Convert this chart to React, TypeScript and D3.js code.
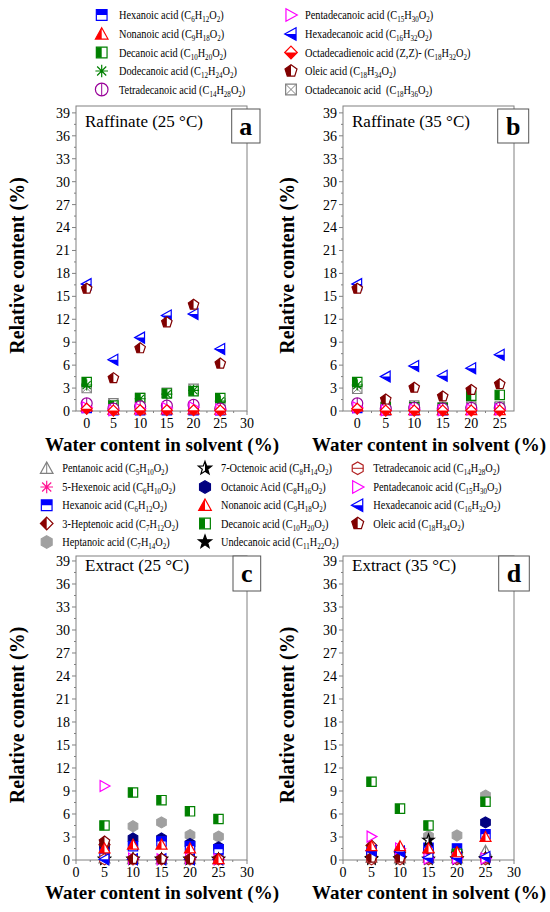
import React from "react";
import * as d3 from "d3";

// water content (%) per sample
const RAF_WATER = [0, 5, 10, 15, 20, 25];
const EXT_WATER = [5, 10, 15, 20, 25];

const Y_TICKS = [0, 3, 6, 9, 12, 15, 18, 21, 24, 27, 30, 33, 36, 39];
const X_TICKS_30 = [0, 5, 10, 15, 20, 25, 30];
const X_TICKS_25 = [0, 5, 10, 15, 20, 25];

// Raffinate 25 °C
const a_hexanoic = [0.4, 0.1, 0.1, 0.1, 0.1, 0.1];
const a_nonanoic = [0.6, 0.15, 0.2, 0.2, 0.2, 0.15];
const a_decanoic = [3.8, 0.7, 1.7, 2.3, 2.6, 1.7];
const a_dodecanoic = [3.4, 0.6, 1.6, 2.2, 2.7, 1.3];
const a_tetradecanoic = [1.0, 0.3, 0.6, 0.7, 0.8, 0.3];
const a_pentadecanoic = [0.5, 0.1, 0.3, 0.4, 0.5, 0.2];
const a_hexadecanoic = [16.6, 6.7, 9.6, 12.5, 12.7, 8.1];
const a_octadecadienoic = [0.3, 0.05, 0.1, 0.1, 0.1, 0.05];
const a_oleic = [16.0, 4.3, 8.2, 11.6, 13.9, 6.2];
const a_octadecanoic = [3.0, 1.0, 1.7, 2.4, 2.9, 1.0];

// Raffinate 35 °C
const b_hexanoic = [0.4, 0.1, 0.1, 0.1, 0.2, 0.5];
const b_nonanoic = [0.6, 0.1, 0.1, 0.1, 0.1, 0.1];
const b_decanoic = [3.8, 0.5, 0.5, 0.4, 2.0, 2.1];
const b_dodecanoic = [3.4, 0.5, 0.6, 0.5, 0.5, 0.5];
const b_tetradecanoic = [1.0, 0.3, 0.4, 0.3, 0.4, 0.4];
const b_pentadecanoic = [0.5, 0.1, 0.2, 0.1, 0.2, 0.2];
const b_hexadecanoic = [16.6, 4.5, 5.9, 4.6, 5.6, 7.35];
const b_octadecadienoic = [0.3, 0.05, 0.05, 0.05, 0.05, 0.05];
const b_oleic = [16.0, 1.5, 3.05, 1.9, 2.75, 3.5];
const b_octadecanoic = [2.9, 0.6, 0.7, 0.5, 0.6, 0.6];

// Extract 25 °C
const c_pentanoic = [0.2, 0.1, 0.1, 0.1, 0.1];
const c_hexenoic = [0.1, 0.1, 0.1, 0.1, 0.1];
const c_hexanoic = [0.8, 1.8, 2.4, 1.8, 1.4];
const c_heptenoic = [2.0, 0.1, 0.1, 0.1, 0.1];
const c_heptanoic = [2.0, 4.4, 4.9, 3.25, 3.05];
const c_octenoic = [0.1, 0.1, 0.1, 0.1, 0.1];
const c_octanoic = [1.8, 2.8, 2.8, 2.1, 1.65];
const c_nonanoic = [1.5, 2.0, 2.0, 1.5, 0.1];
const c_decanoic = [4.5, 8.8, 7.8, 6.35, 5.35];
const c_undecanoic = [0.1, 0.1, 0.1, 0.1, 0.1];
const c_tetradecanoic = [0.1, 0.1, 0.1, 0.1, 0.1];
const c_pentadecanoic = [9.66, 0.2, 0.1, 0.2, 0.1];
const c_hexadecanoic = [0.1, 0.1, 0.1, 0.1, 0.1];
const c_oleic = [2.4, 0.15, 0.15, 0.15, 0.15];

// Extract 35 °C
const d_pentanoic = [0.3, 0.2, 0.3, 0.2, 1.2];
const d_hexenoic = [0.2, 0.2, 0.2, 0.2, 0.2];
const d_hexanoic = [1.0, 0.8, 1.6, 1.5, 3.35];
const d_heptenoic = [1.9, 1.0, 1.0, 1.0, 0.3];
const d_heptanoic = [0.5, 0.5, 3.1, 3.2, 8.4];
const d_octenoic = [0.2, 0.2, 2.6, 0.2, 0.2];
const d_octanoic = [0.8, 0.6, 1.2, 1.0, 4.9];
const d_nonanoic = [1.8, 1.8, 1.5, 1.0, 3.0];
const d_decanoic = [10.2, 6.7, 4.5, 0.8, 7.6];
const d_undecanoic = [0.1, 0.1, 0.1, 0.1, 0.1];
const d_tetradecanoic = [0.1, 0.1, 0.1, 0.1, 0.1];
const d_pentadecanoic = [3.05, 1.5, 0.2, 0.2, 0.2];
const d_hexadecanoic = [1.2, 1.1, 0.3, 0.3, 0.4];
const d_oleic = [0.3, 0.3, 0.2, 0.2, 0.2];

// legend labels (_n = subscript)
const LABELS: Record<string, string> = {
  hexanoic: "Hexanoic acid (C_6H_12O_2)",
  nonanoic: "Nonanoic acid (C_9H_18O_2)",
  decanoic: "Decanoic acid (C_10H_20O_2)",
  dodecanoic: "Dodecanoic acid (C_12H_24O_2)",
  tetradecanoicR: "Tetradecanoic acid (C_14H_28O_2)",
  pentadecanoic: "Pentadecanoic acid (C_15H_30O_2)",
  hexadecanoic: "Hexadecanoic acid (C_16H_32O_2)",
  octadecadienoic: "Octadecadienoic acid (Z,Z)- (C_18H_32O_2)",
  oleic: "Oleic acid (C_18H_34O_2)",
  octadecanoic: "Octadecanoic acid\u00a0 (C_18H_36O_2)",
  pentanoic: "Pentanoic acid (C_5H_10O_2)",
  hexenoic: "5-Hexenoic acid (C_6H_10O_2)",
  heptenoic: "3-Heptenoic acid (C_7H_12O_2)",
  heptanoic: "Heptanoic acid (C_7H_14O_2)",
  octenoic: "7-Octenoic acid (C_8H_14O_2)",
  octanoic: "Octanoic Acid (C_8H_16O_2)",
  undecanoic: "Undecanoic acid (C_11H_22O_2)",
  tetradecanoicE: "Tetradecanoic acid (C_14H_28O_2)",
};

const TOP_LEGEND = [
  ["hexanoic", "nonanoic", "decanoic", "dodecanoic", "tetradecanoicR"],
  ["pentadecanoic", "hexadecanoic", "octadecadienoic", "oleic", "octadecanoic"],
];
const MID_LEGEND = [
  ["pentanoic", "hexenoic", "hexanoic", "heptenoic", "heptanoic"],
  ["octenoic", "octanoic", "nonanoic", "decanoic", "undecanoic"],
  ["tetradecanoicE", "pentadecanoic", "hexadecanoic", "oleic"],
];

type Style = { shape: string; color: string; fill: string; extra?: string };
const STYLES: Record<string, Style> = {
  hexanoic: { shape: "square", color: "#0000ff", fill: "top" },
  nonanoic: { shape: "triUp", color: "#ff0000", fill: "left" },
  decanoic: { shape: "square", color: "#008000", fill: "left" },
  dodecanoic: { shape: "asterisk", color: "#008000", fill: "none" },
  tetradecanoicR: { shape: "circle", color: "#990099", fill: "none", extra: "v" },
  pentadecanoic: { shape: "triRight", color: "#ff00ff", fill: "none" },
  hexadecanoic: { shape: "triLeft", color: "#0000ff", fill: "bottom" },
  octadecadienoic: { shape: "diamond", color: "#ff0000", fill: "bottom" },
  oleic: { shape: "pentagon", color: "#800000", fill: "left" },
  octadecanoic: { shape: "square", color: "#808080", fill: "none", extra: "x" },
  pentanoic: { shape: "triUp", color: "#808080", fill: "none", extra: "v" },
  hexenoic: { shape: "asterisk", color: "#ff1493", fill: "none" },
  heptenoic: { shape: "diamond", color: "#8b0000", fill: "left" },
  heptanoic: { shape: "hex", color: "#a0a0a0", fill: "full" },
  octenoic: { shape: "star", color: "#000000", fill: "right" },
  octanoic: { shape: "hex", color: "#000080", fill: "full" },
  undecanoic: { shape: "star", color: "#000000", fill: "full" },
  tetradecanoicE: { shape: "hex", color: "#b22222", fill: "none", extra: "h" },
};

const FONT = "Liberation Serif, Times New Roman, DejaVu Serif, serif";
const AXIS = "#808080";

function poly(n: number, r: number, inner?: number) {
  const pts: string[] = [];
  const count = inner ? n * 2 : n;
  for (let k = 0; k < count; k++) {
    const a = -Math.PI / 2 + (k * 2 * Math.PI) / count;
    const rr = inner && k % 2 === 1 ? inner : r;
    pts.push(`${(rr * Math.cos(a)).toFixed(2)},${(rr * Math.sin(a)).toFixed(2)}`);
  }
  return "M" + pts.join("L") + "Z";
}

function shapePath(shape: string, r: number) {
  switch (shape) {
    case "square": {
      const s = r * 0.85;
      return `M${-s},${-s}H${s}V${s}H${-s}Z`;
    }
    case "triUp":
      return `M0,${-r}L${r},${r * 0.8}L${-r},${r * 0.8}Z`;
    case "triLeft":
      return `M${-r},0L${r * 0.8},${-r}L${r * 0.8},${r}Z`;
    case "triRight":
      return `M${r},0L${-r * 0.8},${-r}L${-r * 0.8},${r}Z`;
    case "diamond":
      return `M0,${-r}L${r},0L0,${r}L${-r},0Z`;
    case "circle":
      return `M${r},0A${r},${r} 0 1,1 ${-r},0A${r},${r} 0 1,1 ${r},0Z`;
    case "hex":
      return poly(6, r);
    case "pentagon":
      return poly(5, r);
    case "star":
      return poly(5, r * 1.1, r * 0.45);
    case "asterisk": {
      const q = r * 0.72;
      return `M0,${-r}V${r}M${-r},0H${r}M${-q},${-q}L${q},${q}M${-q},${q}L${q},${-q}`;
    }
  }
  return "";
}

const Marker = ({ kind, x, y, r }: { kind: string; x: number; y: number; r: number }) => {
  const st = STYLES[kind];
  const d = shapePath(st.shape, r);
  const half = ["left", "right", "top", "bottom"].includes(st.fill);
  const s = r * 0.85;
  return (
    <g transform={`translate(${x},${y})`}>
      {st.shape !== "asterisk" && (
        <path d={d} fill={st.fill === "full" ? st.color : "#fff"} />
      )}
      {half && <path d={d} fill={st.color} clipPath={`url(#half-${st.fill})`} />}
      <path d={d} fill="none" stroke={st.color} strokeWidth={1.2} strokeLinejoin="miter" />
      {st.extra === "v" && (
        <line x1={0} x2={0} y1={-r} y2={st.shape === "triUp" ? r * 0.8 : r} stroke={st.color} strokeWidth={1} />
      )}
      {st.extra === "h" && <line x1={-r * 0.87} x2={r * 0.87} y1={0} y2={0} stroke={st.color} strokeWidth={1} />}
      {st.extra === "x" && (
        <path d={`M${-s},${-s}L${s},${s}M${-s},${s}L${s},${-s}`} stroke={st.color} strokeWidth={1} />
      )}
    </g>
  );
};

// legend text is narrow in the source figure, so it is squeezed horizontally
const Formula = ({ text, x, y, size }: { text: string; x: number; y: number; size: number }) => {
  const parts = text.split(/_(\d+)/);
  return (
    <text transform={`translate(${x},${y}) scale(0.84,1)`} fontSize={size} fill="#000">
      {parts.map((p, i) =>
        i % 2 === 1 ? (
          <tspan key={i} fontSize={size * 0.68} dy={3}>
            {p}
          </tspan>
        ) : (
          <tspan key={i} dy={i === 0 ? 0 : -3}>
            {p}
          </tspan>
        )
      )}
    </text>
  );
};

type Series = { kind: string; values: number[] };

interface PanelProps {
  left: number;
  top: number;
  width: number;
  height: number;
  xDomain: [number, number];
  yMax: number;
  xTicks: number[];
  xs: number[];
  series: Series[];
  title: string;
  titleDy: number;
  label: string;
  labelBox: [number, number, number, number];
  yTitleX: number;
  xTitleY: number;
}

const Panel = (p: PanelProps) => {
  const x = d3.scaleLinear().domain(p.xDomain).range([p.left, p.left + p.width]);
  const y = d3.scaleLinear().domain([0, p.yMax]).range([p.top + p.height, p.top]);
  const bottom = p.top + p.height;
  const yMinor = Y_TICKS.map((t) => t + 1.5).filter((t) => t < p.yMax);
  const xMinor = p.xTicks.map((t) => t + 2.5).filter((t) => t < p.xDomain[1]);
  const [bx, by, bw, bh] = p.labelBox;
  return (
    <g>
      <rect x={p.left} y={p.top} width={p.width} height={p.height} fill="#fff" stroke={AXIS} strokeWidth={1} />
      {Y_TICKS.map((t) => (
        <g key={`y${t}`}>
          <line x1={p.left - 4} x2={p.left} y1={y(t)} y2={y(t)} stroke={AXIS} />
          <text x={p.left - 6} y={y(t)} dy="0.35em" textAnchor="end" fontSize={14}>
            {t}
          </text>
        </g>
      ))}
      {yMinor.map((t) => (
        <line key={`ym${t}`} x1={p.left - 2} x2={p.left} y1={y(t)} y2={y(t)} stroke={AXIS} />
      ))}
      {p.xTicks.map((t) => (
        <g key={`x${t}`}>
          <line x1={x(t)} x2={x(t)} y1={bottom} y2={bottom + 4} stroke={AXIS} />
          <text x={x(t)} y={bottom + 17} textAnchor="middle" fontSize={14}>
            {t}
          </text>
        </g>
      ))}
      {xMinor.map((t) => (
        <line key={`xm${t}`} x1={x(t)} x2={x(t)} y1={bottom} y2={bottom + 2} stroke={AXIS} />
      ))}
      <text x={p.left + 9} y={p.top + p.titleDy} fontSize={17}>
        {p.title}
      </text>
      <rect x={bx} y={by} width={bw} height={bh} fill="#fff" stroke="#555" strokeWidth={1} />
      <text x={bx + bw / 2} y={by + bh / 2} dy="0.33em" textAnchor="middle" fontWeight="bold" fontSize={26}>
        {p.label}
      </text>
      {p.series.map((s) =>
        s.values.map((v, i) => <Marker key={`${s.kind}${i}`} kind={s.kind} x={x(p.xs[i])} y={y(v)} r={5.5} />)
      )}
      <text
        transform={`translate(${p.yTitleX},${p.top + p.height / 2 + 7}) rotate(-90)`}
        dy="0.35em"
        textAnchor="middle"
        fontWeight="bold"
        fontSize={20}
      >
        Relative content (%)
      </text>
      <text x={p.left + 86} y={p.xTitleY} textAnchor="middle" fontWeight="bold" fontSize={19}>
        Water content in solvent (%)
      </text>
    </g>
  );
};

const Legend = ({ cols, rows, markerX, textX }: { cols: string[][]; rows: number[]; markerX: number[]; textX: number[] }) => (
  <g>
    {cols.map((col, ci) =>
      col.map((k, ri) => (
        <g key={`${ci}-${k}`}>
          <Marker kind={k} x={markerX[ci]} y={rows[ri]} r={6.3} />
          <Formula text={LABELS[k]} x={textX[ci]} y={rows[ri] + 4} size={12.3} />
        </g>
      ))
    )}
  </g>
);

const clipRects: Record<string, [number, number, number, number]> = {
  left: [-20, -20, 20, 40],
  right: [0, -20, 20, 40],
  top: [-20, -20, 40, 20],
  bottom: [-20, 0, 40, 20],
};

export default function App() {
  const rafA: Series[] = [
    { kind: "hexanoic", values: a_hexanoic },
    { kind: "nonanoic", values: a_nonanoic },
    { kind: "octadecanoic", values: a_octadecanoic },
    { kind: "decanoic", values: a_decanoic },
    { kind: "dodecanoic", values: a_dodecanoic },
    { kind: "tetradecanoicR", values: a_tetradecanoic },
    { kind: "pentadecanoic", values: a_pentadecanoic },
    { kind: "octadecadienoic", values: a_octadecadienoic },
    { kind: "hexadecanoic", values: a_hexadecanoic },
    { kind: "oleic", values: a_oleic },
  ];
  const rafB: Series[] = [
    { kind: "hexanoic", values: b_hexanoic },
    { kind: "nonanoic", values: b_nonanoic },
    { kind: "octadecanoic", values: b_octadecanoic },
    { kind: "decanoic", values: b_decanoic },
    { kind: "dodecanoic", values: b_dodecanoic },
    { kind: "tetradecanoicR", values: b_tetradecanoic },
    { kind: "pentadecanoic", values: b_pentadecanoic },
    { kind: "octadecadienoic", values: b_octadecadienoic },
    { kind: "hexadecanoic", values: b_hexadecanoic },
    { kind: "oleic", values: b_oleic },
  ];
  const extC: Series[] = [
    { kind: "pentanoic", values: c_pentanoic },
    { kind: "hexenoic", values: c_hexenoic },
    { kind: "heptanoic", values: c_heptanoic },
    { kind: "octanoic", values: c_octanoic },
    { kind: "hexanoic", values: c_hexanoic },
    { kind: "heptenoic", values: c_heptenoic },
    { kind: "octenoic", values: c_octenoic },
    { kind: "undecanoic", values: c_undecanoic },
    { kind: "decanoic", values: c_decanoic },
    { kind: "tetradecanoicE", values: c_tetradecanoic },
    { kind: "pentadecanoic", values: c_pentadecanoic },
    { kind: "hexadecanoic", values: c_hexadecanoic },
    { kind: "oleic", values: c_oleic },
    { kind: "nonanoic", values: c_nonanoic },
  ];
  const extD: Series[] = [
    { kind: "pentanoic", values: d_pentanoic },
    { kind: "hexenoic", values: d_hexenoic },
    { kind: "heptanoic", values: d_heptanoic },
    { kind: "octanoic", values: d_octanoic },
    { kind: "hexanoic", values: d_hexanoic },
    { kind: "heptenoic", values: d_heptenoic },
    { kind: "undecanoic", values: d_undecanoic },
    { kind: "octenoic", values: d_octenoic },
    { kind: "decanoic", values: d_decanoic },
    { kind: "tetradecanoicE", values: d_tetradecanoic },
    { kind: "oleic", values: d_oleic },
    { kind: "pentadecanoic", values: d_pentadecanoic },
    { kind: "hexadecanoic", values: d_hexadecanoic },
    { kind: "nonanoic", values: d_nonanoic },
  ];

  return (
    <svg width={550} height={912} style={{ position: "absolute", left: 0, top: 0, background: "#fff", fontFamily: FONT }}>
      <defs>
        {Object.entries(clipRects).map(([k, [cx, cy, cw, ch]]) => (
          <clipPath id={`half-${k}`} key={k}>
            <rect x={cx} y={cy} width={cw} height={ch} />
          </clipPath>
        ))}
      </defs>
      <rect width={550} height={912} fill="#fff" />
      <Legend cols={TOP_LEGEND} rows={[15, 34, 52.5, 71, 89.5]} markerX={[101.7, 291]} textX={[119, 305]} />
      <Legend cols={MID_LEGEND} rows={[468.3, 487, 505.3, 523.5, 542]} markerX={[46.7, 205, 357.7]} textX={[62.3, 221, 373.3]} />
      <Panel
        left={76} top={106} width={171} height={305}
        xDomain={[-2, 30]} yMax={39.9} xTicks={X_TICKS_30} xs={RAF_WATER} series={rafA}
        title="Raffinate (25 °C)" titleDy={21} label="a" labelBox={[231.7, 109, 28.3, 34]}
        yTitleX={17} xTitleY={451}
      />
      <Panel
        left={343} top={106} width={171} height={305}
        xDomain={[-2.5, 27.5]} yMax={39.9} xTicks={X_TICKS_25} xs={RAF_WATER} series={rafB}
        title="Raffinate (35 °C)" titleDy={21} label="b" labelBox={[497.7, 109, 31, 34]}
        yTitleX={287} xTitleY={451}
      />
      <Panel
        left={76} top={556} width={171} height={304}
        xDomain={[0, 30]} yMax={39.65} xTicks={X_TICKS_30} xs={EXT_WATER} series={extC}
        title="Extract (25 °C)" titleDy={15} label="c" labelBox={[233, 556, 27.7, 35]}
        yTitleX={17} xTitleY={899}
      />
      <Panel
        left={343} top={556} width={171} height={304}
        xDomain={[0, 30]} yMax={39.65} xTicks={X_TICKS_30} xs={EXT_WATER} series={extD}
        title="Extract (35 °C)" titleDy={15} label="d" labelBox={[498.7, 556, 30.6, 35]}
        yTitleX={287} xTitleY={899}
      />
    </svg>
  );
}
